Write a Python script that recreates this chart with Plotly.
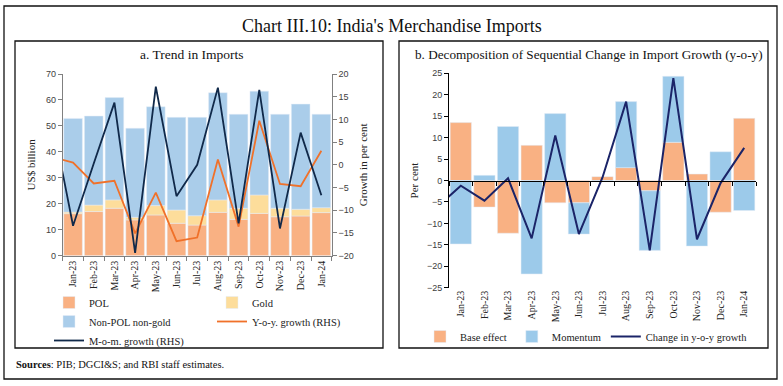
import plotly.graph_objects as go

# ---------------- data ----------------
months = ["Jan-23", "Feb-23", "Mar-23", "Apr-23", "May-23", "Jun-23", "Jul-23",
          "Aug-23", "Sep-23", "Oct-23", "Nov-23", "Dec-23", "Jan-24"]
# line series also carry the Dec-22 point (clipped at the left edge of the axes)
line_months = ["Dec-22"] + months

pol = [16.2, 17.0, 18.3, 13.8, 15.7, 12.5, 11.8, 16.7, 14.0, 16.3, 15.0, 15.3, 16.6]
gold = [0.6, 2.5, 3.2, 1.0, 3.6, 5.1, 3.6, 4.8, 4.3, 7.1, 3.3, 2.6, 1.9]
non_pol_non_gold = [36.1, 34.3, 39.4, 34.3, 38.1, 35.7, 37.9, 41.3, 36.2, 40.0, 36.2, 40.5, 36.0]
yoy_growth = [1.7, 0.5, -4.1, -3.5, -15.1, -6.1, -16.8, -16.0, 1.2, -13.6, 9.7, -4.2, -4.7, 3.1]
mom_growth = [9.7, -13.4, 0.3, 13.7, -19.4, 17.2, -6.9, 0.0, 17.0, -12.9, 16.5, -14.0, 7.1, -6.7]

base_effect = [13.5, -6.2, -12.3, 8.2, -5.2, -5.2, 0.9, 3.0, -2.4, 8.9, 1.5, -7.4, 14.5]
momentum = [-14.8, 1.2, 12.6, -21.8, 15.6, -7.3, -0.2, 15.4, -13.9, 15.4, -15.3, 6.7, -7.0]
change_yoy = [-6.2, -1.2, -4.7, 0.5, -13.5, 10.5, -12.5, 0.7, 18.4, -16.3, 23.9, -13.7, -0.6, 7.6]

left_ticks = [0, 10, 20, 30, 40, 50, 60, 70]
rhs_ticks = [-20, -15, -10, -5, 0, 5, 10, 15, 20]
right_ticks = [-25, -20, -15, -10, -5, 0, 5, 10, 15, 20, 25]

# ---------------- style ----------------
W, H = 783, 386
SERIF = "Liberation Serif"
SANS = "Liberation Sans"
C_POL = "#F9B183"
C_GOLD = "#FDDD9B"
C_NPNG = "#AACDEA"
C_YOY = "#F0712A"
C_MOM = "#10294A"
C_BASE = "#F9B183"
C_MOMT = "#9CCAEA"
C_CHG = "#1B2468"


def px(x):
    return x / W


def py(y):
    return 1 - y / H


L_X = [px(62.7), px(331.7)]
L_Y = [py(255.7), py(74)]
R_X = [px(449), px(756)]
R_Y = [py(287.7), py(73.3)]

fig = go.Figure()

# ---- panel a ----
fig.add_trace(go.Bar(x=months, y=pol, name="POL", marker_color=C_POL,
                     xaxis="x", yaxis="y", legend="legend", legendgroup="A"))
fig.add_trace(go.Bar(x=months, y=gold, name="Gold", marker_color=C_GOLD,
                     xaxis="x", yaxis="y", legend="legend", legendgroup="B"))
fig.add_trace(go.Bar(x=months, y=non_pol_non_gold, name="Non-POL non-gold", marker_color=C_NPNG,
                     xaxis="x", yaxis="y", legend="legend", legendgroup="A"))
fig.add_trace(go.Scatter(x=line_months, y=yoy_growth, name="Y-o-y. growth (RHS)", mode="lines",
                         line=dict(color=C_YOY, width=1.8), xaxis="x", yaxis="y2",
                         legend="legend", legendgroup="B"))
fig.add_trace(go.Scatter(x=line_months, y=mom_growth, name="M-o-m. growth (RHS)", mode="lines",
                         line=dict(color=C_MOM, width=1.8), xaxis="x", yaxis="y2",
                         legend="legend", legendgroup="A"))

# ---- panel b ----
fig.add_trace(go.Bar(x=months, y=base_effect, name="Base effect", marker_color=C_BASE,
                     xaxis="x3", yaxis="y3", legend="legend2"))
fig.add_trace(go.Bar(x=months, y=momentum, name="Momentum", marker_color=C_MOMT,
                     xaxis="x3", yaxis="y3", legend="legend2"))
fig.add_trace(go.Scatter(x=line_months, y=change_yoy, name="Change in y-o-y growth", mode="lines",
                         line=dict(color=C_CHG, width=2), xaxis="x4", yaxis="y3",
                         legend="legend2"))

cat_range = [0.5, 13.5]
tickfont = dict(family=SANS, size=9, color="#404040")
xtickfont = dict(family=SERIF, size=10, color="#222222")
axtitle = dict(family=SERIF, size=11, color="#222222")
legfont = dict(family=SERIF, size=10.5, color="#222222")

fig.update_layout(
    width=W, height=H,
    margin=dict(l=0, r=0, t=0, b=0),
    paper_bgcolor="white", plot_bgcolor="rgba(0,0,0,0)",
    barmode="relative",
    bargap=0.1,
    showlegend=True,
    xaxis=dict(domain=L_X, anchor="y", type="category", categoryarray=line_months,
               range=cat_range, tickson="boundaries", ticks="outside", ticklen=4,
               tickcolor="#808080", showline=True, linecolor="#808080", linewidth=1,
               tickangle=-90, tickfont=xtickfont, showgrid=False, automargin=False,
               fixedrange=True),
    yaxis=dict(domain=L_Y, anchor="x", range=[0, 70], tickvals=left_ticks,
               ticks="outside", ticklen=4, tickcolor="#808080", showline=True,
               linecolor="#808080", linewidth=1, showgrid=False, zeroline=False,
               tickfont=tickfont, automargin=False,
               title=dict(text="US$ billion", font=axtitle, standoff=8)),
    yaxis2=dict(overlaying="y", side="right", anchor="x", range=[-20, 20], tickvals=rhs_ticks,
                ticks="outside", ticklen=4, tickcolor="#808080", showline=True,
                linecolor="#808080", linewidth=1, showgrid=False, zeroline=False,
                tickfont=tickfont, automargin=False,
                title=dict(text="Growth in per cent", font=axtitle, standoff=6)),
    xaxis3=dict(domain=R_X, anchor="y3", type="category", categoryarray=line_months,
                range=cat_range, ticks="", showline=False, tickangle=-90,
                tickfont=xtickfont, showgrid=False, automargin=False),
    xaxis4=dict(overlaying="x3", anchor="free", position=(R_Y[0] + R_Y[1]) / 2,
                type="category", categoryarray=line_months, range=cat_range,
                tickson="boundaries", ticks="outside", ticklen=4, tickcolor="#000000",
                showline=True, linecolor="#000000", linewidth=1,
                showticklabels=False, showgrid=False, automargin=False),
    yaxis3=dict(domain=R_Y, anchor="x3", range=[-25, 25], tickvals=right_ticks,
                ticks="outside", ticklen=4, tickcolor="#000000", showline=True,
                linecolor="#000000", linewidth=1, showgrid=False, zeroline=False,
                tickfont=tickfont, automargin=False,
                title=dict(text="Per cent", font=axtitle, standoff=6)),
    legend=dict(orientation="h", x=px(49), xanchor="left", y=py(288), yanchor="top",
                traceorder="grouped", entrywidth=118, entrywidthmode="pixels",
                font=legfont,
                bgcolor="rgba(0,0,0,0)", itemclick=False, itemdoubleclick=False),
    legend2=dict(orientation="h", x=px(420), xanchor="left", y=py(322), yanchor="top",
                 font=legfont,
                 bgcolor="rgba(0,0,0,0)", itemclick=False, itemdoubleclick=False),
)

# ---- boxes ----
box = dict(type="rect", xref="paper", yref="paper", line=dict(color="#111111", width=1.3),
           fillcolor="rgba(0,0,0,0)", layer="above")
fig.add_shape(**box, x0=px(4), x1=px(777), y0=py(379), y1=py(6))
fig.add_shape(**box, x0=px(15), x1=px(383), y0=py(348), y1=py(41))
fig.add_shape(**box, x0=px(399), x1=px(768), y0=py(348), y1=py(41))

# ---- titles / notes ----
fig.add_annotation(text="Chart III.10: India's Merchandise Imports", x=px(392), y=py(26),
                   xref="paper", yref="paper", showarrow=False, xanchor="center", yanchor="middle",
                   font=dict(family=SERIF, size=18, color="#111111"))
fig.add_annotation(text="a. Trend in Imports", x=px(192), y=py(54),
                   xref="paper", yref="paper", showarrow=False, xanchor="center", yanchor="middle",
                   font=dict(family=SERIF, size=13.5, color="#111111"))
fig.add_annotation(text="b. Decomposition of Sequential Change in Import Growth (y-o-y)",
                   x=px(589), y=py(54), xref="paper", yref="paper", showarrow=False,
                   xanchor="center", yanchor="middle",
                   font=dict(family=SERIF, size=13.2, color="#111111"))
fig.add_annotation(text="<b>Sources</b>: PIB; DGCI&amp;S; and RBI staff estimates.",
                   x=px(14), y=py(364), xref="paper", yref="paper", showarrow=False,
                   xanchor="left", yanchor="middle",
                   font=dict(family=SERIF, size=10.5, color="#111111"))

fig.write_html("out.html", post_script="document.body.style.margin='0';",
               config={"displayModeBar": False})
